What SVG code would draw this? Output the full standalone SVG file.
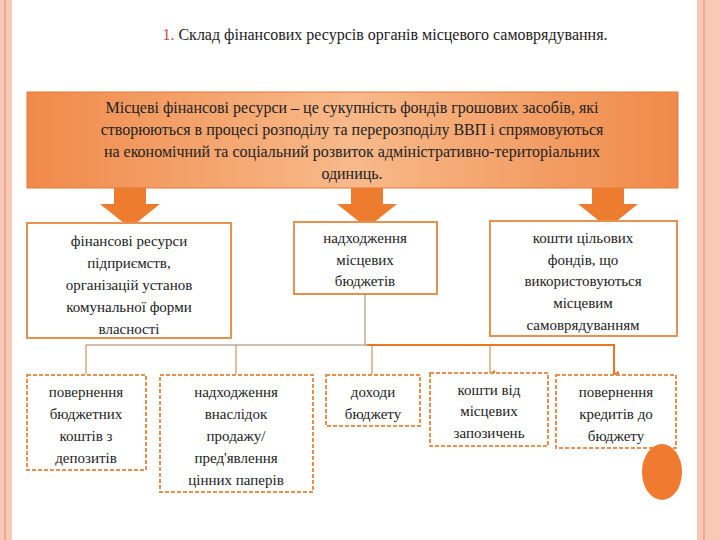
<svg xmlns="http://www.w3.org/2000/svg" width="720" height="540" viewBox="0 0 720 540">
<defs>
<linearGradient id="g" x1="0" y1="0" x2="1" y2="0">
<stop offset="0" stop-color="#f08a4a"/><stop offset="0.5" stop-color="#f8b98a"/><stop offset="1" stop-color="#f08a4a"/>
</linearGradient>
<marker id="ah" markerWidth="6" markerHeight="6" refX="3" refY="5" orient="auto" markerUnits="userSpaceOnUse"><path d="M0,0 L6,0 L3,6 z" fill="#e87722"/></marker>
</defs>
<style>
text{font-family:'Liberation Serif','DejaVu Serif',serif;font-size:15px;fill:#222;text-anchor:middle}
.box{fill:#fff;stroke:#e8914f;stroke-width:2}
.dbox{fill:#fff;stroke:#e8914f;stroke-width:2;stroke-dasharray:4 2}
.arrow{fill:#ee7c2e}
</style>
<rect width="720" height="540" fill="#fff"/>
<rect x="0" y="0" width="12" height="540" fill="#f9c9b8"/>
<rect x="4" y="0" width="2" height="540" fill="#f0a890"/>
<rect x="697" y="0" width="23" height="540" fill="#f9c9b8"/>
<rect x="703" y="0" width="2" height="540" fill="#f0a890"/>
<g font-family="Liberation Serif, DejaVu Serif, serif">
<text x="385" y="40" style="font-size:16px"><tspan fill="#c0504d">1.</tspan> Склад фінансових ресурсів органів місцевого самоврядування.</text>
<g id="main">
<rect x="27" y="92" width="651" height="96" fill="url(#g)" stroke="#e07a3a"/>
<text x="352" y="113" style="font-size:16px">Місцеві фінансові ресурси – це сукупність фондів грошових засобів, які</text>
<text x="352" y="135" style="font-size:16px">створюються в процесі розподілу та перерозподілу ВВП і спрямовуються</text>
<text x="352" y="157" style="font-size:16px">на економічний та соціальний розвиток адміністративно-територіальних</text>
<text x="352" y="179" style="font-size:16px">одиниць.</text>
</g>
<g id="arrows">
<path class="arrow" d="M114,188 h32 v16 h14 l-30,24 l-30,-24 h14 z"/>
<path class="arrow" d="M351,188 h32 v16 h14 l-30,24 l-30,-24 h14 z"/>
<path class="arrow" d="M592,188 h32 v16 h14 l-30,24 l-30,-24 h14 z"/>
</g>
<g id="n1"><rect class="box" x="27" y="223" width="204" height="115"/>
<text x="129" y="246">фінансові ресурси</text><text x="129" y="268">підприємств,</text><text x="129" y="290">організацій установ</text><text x="129" y="312">комунальної форми</text><text x="129" y="334">власності</text></g>
<g id="n2"><rect class="box" x="294" y="222" width="143" height="72"/>
<text x="365" y="243">надходження</text><text x="365" y="265">місцевих</text><text x="365" y="286">бюджетів</text></g>
<g id="n3"><rect class="box" x="490" y="221" width="187" height="115"/>
<text x="583" y="243">кошти цільових</text><text x="583" y="265">фондів, що</text><text x="583" y="286">використовуються</text><text x="583" y="308">місцевим</text><text x="583" y="330">самоврядуванням</text></g>
<g id="connectors" fill="none">
<path d="M365,294 V345 M86,345 H615" stroke="#a08060" stroke-width="1"/>
<path d="M367,345 H615" stroke="#e87722" stroke-width="2"/>
<path d="M86,345 V374 M236,345 V374 M372,345 V374 M490,345 V373" stroke="#c08040" stroke-width="1" marker-end="url(#ah)"/>
<path d="M614,345 V374" stroke="#e87722" stroke-width="2" marker-end="url(#ah)"/>
</g>
<g id="b1"><rect class="dbox" x="27" y="375" width="119" height="95"/>
<text x="86" y="397">повернення</text><text x="86" y="419">бюджетних</text><text x="86" y="441">коштів з</text><text x="86" y="463">депозитів</text></g>
<g id="b2"><rect class="dbox" x="160" y="375" width="153" height="117"/>
<text x="236" y="397">надходження</text><text x="236" y="419">внаслідок</text><text x="236" y="441">продажу/</text><text x="236" y="463">пред'явлення</text><text x="236" y="485">цінних паперів</text></g>
<g id="b3"><rect class="dbox" x="326" y="375" width="94" height="51"/>
<text x="373" y="397">доходи</text><text x="373" y="419">бюджету</text></g>
<g id="b4"><rect class="dbox" x="430" y="373" width="118" height="73"/>
<text x="489" y="395">кошти від</text><text x="489" y="416">місцевих</text><text x="489" y="438">запозичень</text></g>
<g id="b5"><rect class="dbox" x="556" y="375" width="120" height="73"/>
<text x="616" y="397">повернення</text><text x="616" y="419">кредитів до</text><text x="616" y="441">бюджету</text></g>
</g>
<ellipse cx="662" cy="472" rx="20" ry="28" fill="#f07a30"/>
</svg>
